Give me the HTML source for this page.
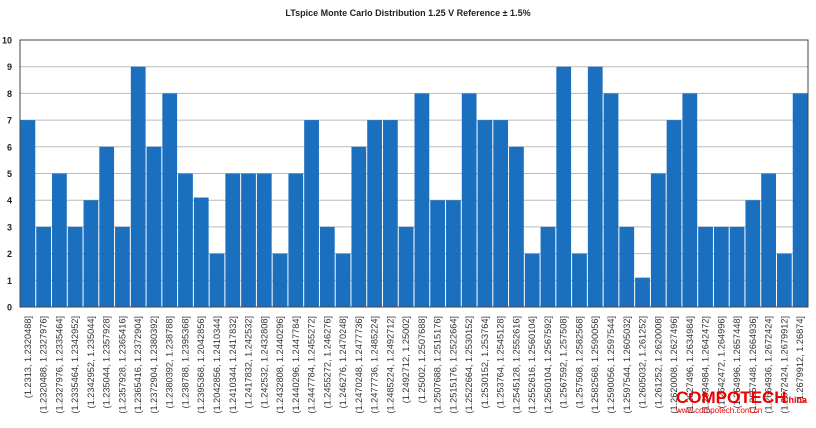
<!DOCTYPE html>
<html><head><meta charset="utf-8"><style>
body{margin:0;background:#fff;width:816px;height:423px;overflow:hidden;font-family:"Liberation Sans",sans-serif}
</style></head><body>
<svg id="chart" width="816" height="423" xmlns="http://www.w3.org/2000/svg">
<text x="408" y="16" text-anchor="middle" font-size="9" font-weight="bold" fill="#222">LTspice Monte Carlo Distribution 1.25 V Reference ± 1.5%</text>
<g id="grid"></g><g id="bars"></g><g id="xlabels"></g><g id="ylabels"></g>
<rect x="20" y="40" width="788" height="267" fill="none" stroke="#444" stroke-width="1"/>
<text x="676" y="403" font-size="17" font-weight="bold" fill="#e00" font-family="Liberation Sans Narrow, Liberation Sans, sans-serif">COMPOTECH</text>
<text x="782" y="403" font-size="9" font-weight="bold" fill="#e00">China</text>
<text x="676" y="413" font-size="8" fill="#e00">www.compotech.com.cn</text>
</svg>
<script>
const categories=["(1.2313, 1.2320488]","(1.2320488, 1.2327976]","(1.2327976, 1.2335464]","(1.2335464, 1.2342952]","(1.2342952, 1.235044]","(1.235044, 1.2357928]","(1.2357928, 1.2365416]","(1.2365416, 1.2372904]","(1.2372904, 1.2380392]","(1.2380392, 1.238788]","(1.238788, 1.2395368]","(1.2395368, 1.2042856]","(1.2042856, 1.2410344]","(1.2410344, 1.2417832]","(1.2417832, 1.242532]","(1.242532, 1.2432808]","(1.2432808, 1.2440296]","(1.2440296, 1.2447784]","(1.2447784, 1.2455272]","(1.2455272, 1.246276]","(1.246276, 1.2470248]","(1.2470248, 1.2477736]","(1.2477736, 1.2485224]","(1.2485224, 1.2492712]","(1.2492712, 1.25002]","(1.25002, 1.2507688]","(1.2507688, 1.2515176]","(1.2515176, 1.2522664]","(1.2522664, 1.2530152]","(1.2530152, 1.253764]","(1.253764, 1.2545128]","(1.2545128, 1.2552616]","(1.2552616, 1.2560104]","(1.2560104, 1.2567592]","(1.2567592, 1.257508]","(1.257508, 1.2582568]","(1.2582568, 1.2590056]","(1.2590056, 1.2597544]","(1.2597544, 1.2605032]","(1.2605032, 1.261252]","(1.261252, 1.2620008]","(1.2620008, 1.2627496]","(1.2627496, 1.2634984]","(1.2634984, 1.2642472]","(1.2642472, 1.264996]","(1.264996, 1.2657448]","(1.2657448, 1.2664936]","(1.2664936, 1.2672424]","(1.2672424, 1.2679912]","(1.2679912, 1.26874]"];
const counts=[7,3,5,3,4,6,3,9,6,8,5,4.1,2,5,5,5,2,5,7,3,2,6,7,7,3,8,4,4,8,7,7,6,2,3,9,2,9,8,3,1.1,5,7,8,3,3,3,4,5,2,8];
const yTicks=[0,1,2,3,4,5,6,7,8,9,10];
const NS="http://www.w3.org/2000/svg";
const L=20,R=808,T=40,B=307,yMax=10;
const y=v=>B-(v/yMax)*(B-T);
const bw=(R-L)/categories.length;
const x=i=>L+i*bw;
function mk(tag,attrs,parent){const e=document.createElementNS(NS,tag);for(const k in attrs)e.setAttribute(k,attrs[k]);parent.appendChild(e);return e;}
const g=document.getElementById('grid'),bg=document.getElementById('bars'),xl=document.getElementById('xlabels'),yl=document.getElementById('ylabels');
yTicks.forEach(t=>{
  const ln=mk('line',{x1:L,x2:R,y1:y(t),y2:y(t),stroke:'#bbb','stroke-width':1},g);
  
  
  const tx=mk('text',{x:12,y:y(t)+3.5,'text-anchor':'end','font-size':9,'font-weight':'bold',fill:'#222'},yl);
  tx.textContent=t;
  
  
});
counts.forEach((v,i)=>{
  const r=mk('rect',{x:x(i)+0.5,y:y(v),width:bw-1,height:B-y(v),fill:'#1b6fbf'},bg);
  
  
  const cx=x(i)+bw/2+3;
  const t=mk('text',{x:cx,y:316,transform:'rotate(-90 '+cx+' 316)','text-anchor':'end','font-size':9.2,fill:'#333'},xl);
  t.textContent=categories[i];
  
  
});
</script>
</body></html>
